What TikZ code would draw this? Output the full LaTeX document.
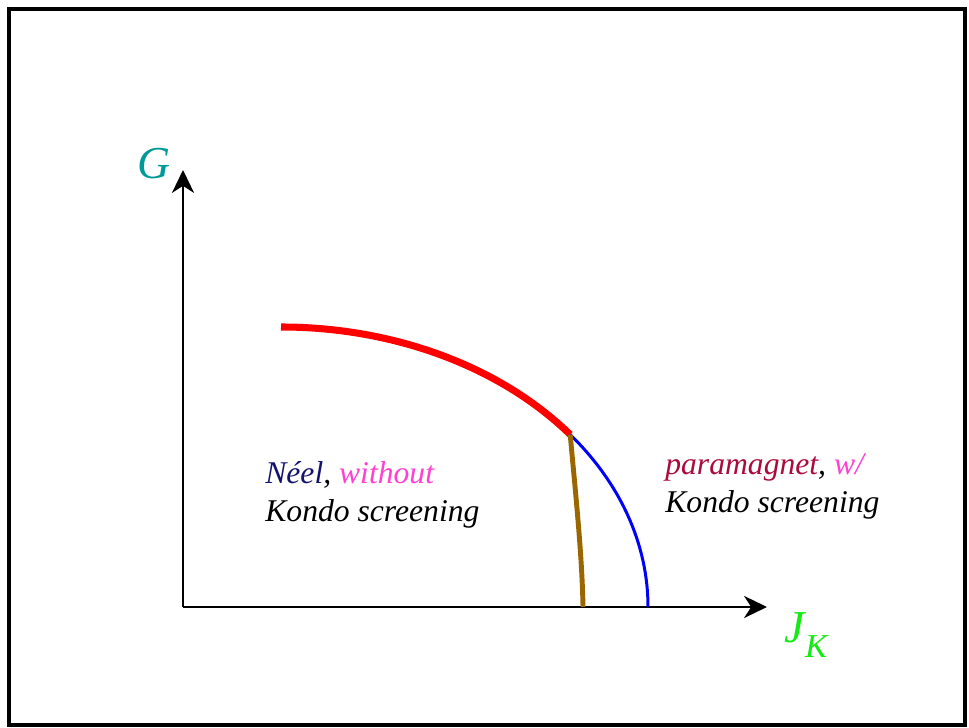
\documentclass[tikz,border=0pt]{standalone}
\usepackage{fontspec}
\setmainfont{Liberation Serif}
\usepackage{xcolor}
\usepackage{tikz}
\usetikzlibrary{arrows.meta, positioning, calc}

\definecolor{gcolor}{RGB}{0,153,153}
\definecolor{jcolor}{RGB}{20,235,20}
\definecolor{neelcolor}{RGB}{20,20,110}
\definecolor{pinkcolor}{RGB}{255,64,210}
\definecolor{paracolor}{RGB}{170,10,60}
\definecolor{browncolor}{RGB}{153,102,0}

\begin{document}
\begin{tikzpicture}[
    axis/.style={-{Stealth[length=13pt, width=12.5pt, inset=4pt]}, line width=1.7pt},
    phase/.style={align=left, inner sep=0pt, anchor=base west, font=\fontsize{18}{22}\selectfont\itshape},
    axlabel/.style={inner sep=0pt, font=\fontsize{26}{30}\selectfont\itshape}]

    \useasboundingbox (0,0) rectangle (19.38,14.56);
    \draw[line width=1.8pt] (0.18,0.06) rectangle (19.30,14.38);

    % axes
    \coordinate (origin) at (3.66,2.42);
    \coordinate (ytip) at (3.66,11.16);
    \coordinate (xtip) at (15.34,2.42);
    \draw[axis] (origin) -- (ytip);
    \draw[axis] (origin) -- (xtip);
    \node (G) [axlabel, text=gcolor] at (3.08,11.28) {G};
    \node (JK) [axlabel, text=jcolor] at (16.12,1.86) {J\raisebox{-0.32em}{\fontsize{19}{22}\selectfont K}};

    % phase boundaries
    \coordinate (top) at (5.62,8.02);
    \draw[red, line width=4pt] (top) arc[start angle=90, end angle=38, x radius=7.34, y radius=5.6] coordinate (P);
    \draw[blue, line width=1.7pt] (P) arc[start angle=38, end angle=0, x radius=7.34, y radius=5.6] coordinate (Pblue);
    \coordinate (Pbrown) at (11.66,2.42);
    \draw[browncolor, line width=2.8pt] (P) .. controls (11.50,4.8) and (11.64,3.5) .. (Pbrown);

    % phases
    \node (neel) [phase] at (5.30,4.12) {\textcolor{neelcolor}{Néel}, \textcolor{pinkcolor}{without}\\Kondo screening};
    \node (para) [phase] at (13.30,4.30) {\textcolor{paracolor}{paramagnet}, \textcolor{pinkcolor}{w/}\\Kondo screening};

\end{tikzpicture}
\end{document}
